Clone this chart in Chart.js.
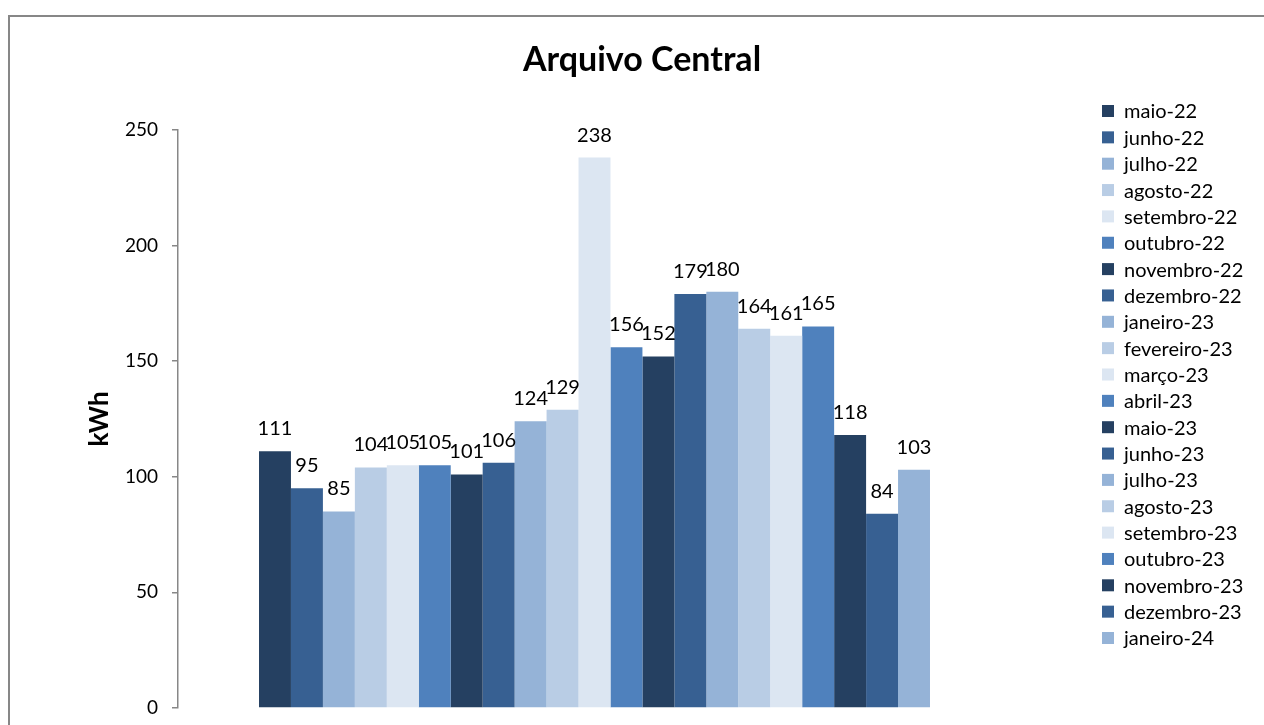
<!DOCTYPE html>
<html>
<head>
<meta charset="utf-8">
<script src="https://cdn.jsdelivr.net/npm/chart.js@4.4.1/dist/chart.umd.min.js"></script>
<style>
  html, body { margin: 0; padding: 0; background: #fff; }
  #wrap { position: relative; width: 1264px; height: 725px; overflow: hidden; }
  #frame { position: absolute; left: 8px; top: 15px; width: 1400px; height: 800px;
           border-left: 2px solid #878787; border-top: 2px solid #878787; }
  canvas { position: absolute; left: 0; top: 0; }
</style>
</head>
<body>
<div id="wrap">
  <div id="frame"></div>
  <canvas id="grafico" width="1264" height="725"></canvas>
</div>
<script>
// meses (uma série por mês, como no Excel)
const meses = [
    "maio-22", "junho-22", "julho-22", "agosto-22", "setembro-22", "outubro-22",
    "novembro-22", "dezembro-22", "janeiro-23", "fevereiro-23", "março-23", "abril-23",
    "maio-23", "junho-23", "julho-23", "agosto-23", "setembro-23", "outubro-23",
    "novembro-23", "dezembro-23", "janeiro-24"
];
const consumo = [111, 95, 85, 104, 105, 105, 101, 106, 124, 129, 238, 156, 152, 179, 180, 164, 161, 165, 118, 84, 103];
const ticksY = [0, 50, 100, 150, 200, 250];
const cores = ["#254061", "#376092", "#95b3d7", "#b9cde5", "#dce6f2", "#4f81bd"];

const fonte = "Lato, 'Open Sans', sans-serif";
const cinza = "#878787";

const datasets = meses.map(function (mes, i) {
    return {
        label: mes,
        data: [consumo[i]],
        backgroundColor: cores[i % cores.length],
        borderWidth: 0,
        categoryPercentage: 0.8055,
        barPercentage: 1
    };
});

// rótulos de valor em cima das barras + legenda lateral
const pluginRotulos = {
    id: "rotulos",
    afterDatasetsDraw: function (chart) {
        const c = chart.ctx;
        c.save();
        c.font = "20px " + fonte;
        c.fillStyle = "#000";
        c.textAlign = "center";
        c.textBaseline = "alphabetic";
        chart.data.datasets.forEach(function (ds, i) {
            const bar = chart.getDatasetMeta(i).data[0];
            c.fillText(String(ds.data[0]), bar.x, bar.y - 16);
        });
        c.restore();
    },
    afterDraw: function (chart) {
        const c = chart.ctx;
        c.save();
        c.font = "20px " + fonte;
        c.textAlign = "left";
        c.textBaseline = "middle";
        chart.data.datasets.forEach(function (ds, i) {
            const y = 111 + i * 26.35;
            c.fillStyle = ds.backgroundColor;
            c.fillRect(1102, y - 6, 12, 12);
            c.fillStyle = "#000";
            c.fillText(ds.label, 1124, y + 1);
        });
        c.restore();
    }
};

new Chart(document.getElementById("grafico"), {
    type: "bar",
    data: {
        labels: [""],
        datasets: datasets
    },
    options: {
        responsive: false,
        animation: false,
        devicePixelRatio: 1,
        layout: { padding: { left: 20, right: 0, top: 0, bottom: 17 } },
        plugins: {
            legend: { display: false },
            tooltip: { enabled: false },
            title: {
                display: true,
                text: "Arquivo Central",
                color: "#000",
                font: { family: fonte, size: 34, weight: "bold" },
                padding: { top: 40, bottom: 49 }
            }
        },
        scales: {
            x: { display: false },
            y: {
                min: 0,
                max: 250,
                afterBuildTicks: function (axis) {
                    axis.ticks = ticksY.map(function (v) { return { value: v }; });
                },
                afterFit: function (axis) {
                    axis.width = 158;
                    axis.paddingTop = 0;
                    axis.paddingBottom = 0;
                },
                border: { display: true, color: cinza, width: 1.5 },
                grid: { drawOnChartArea: false, drawTicks: true, tickLength: 6, color: cinza, lineWidth: 1.5 },
                ticks: { color: "#000", padding: 14, font: { family: fonte, size: 19 } },
                title: {
                    display: true,
                    text: "kWh",
                    color: "#000",
                    font: { family: fonte, size: 26, weight: "bold" },
                    padding: { top: 64 }
                }
            },
            // eixo vazio só para reservar o espaço da legenda
            yDir: {
                position: "right",
                display: true,
                afterFit: function (axis) { axis.width = 253; },
                border: { display: false },
                grid: { display: false },
                ticks: { display: false }
            }
        }
    },
    plugins: [pluginRotulos]
});
</script>
</body>
</html>
